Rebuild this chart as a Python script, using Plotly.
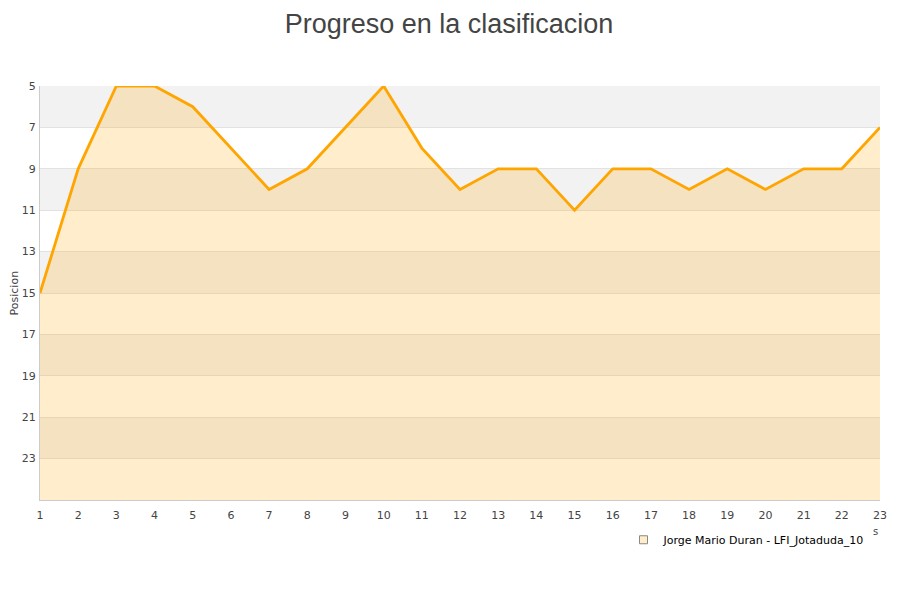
import plotly.graph_objects as go

# jornadas y posicion en la clasificacion
jornadas = list(range(1, 24))
posiciones = [15, 9, 5, 5, 6, 8, 10, 9, 7, 5, 8, 10, 9, 9, 11, 9, 9, 10, 9, 10, 9, 9, 7]
tick_vals = [5, 7, 9, 11, 13, 15, 17, 19, 21, 23]
fondo = 25
nombre = 'Jorge Mario Duran - LFI_Jotaduda_10'

fig = go.Figure()

# base invisible para rellenar hacia abajo (eje invertido)
fig.add_trace(go.Scatter(x=jornadas, y=[fondo] * len(jornadas), mode='lines',
                         line=dict(width=0), showlegend=False, hoverinfo='skip'))
fig.add_trace(go.Scatter(x=jornadas, y=posiciones, mode='lines', name=nombre,
                         line=dict(color='#ffa500', width=2.8), showlegend=False,
                         fill='tonexty', fillcolor='rgba(255,165,0,0.2)'))
# entrada de leyenda con cuadradito
fig.add_trace(go.Scatter(x=[None], y=[None], mode='markers', name=nombre,
                         marker=dict(symbol='square', size=8, color='#ffedcc',
                                     line=dict(color='#888888', width=1))))

# franjas grises alternas
shapes = []
for y0 in range(5, 25, 4):
    shapes.append(dict(type='rect', xref='paper', yref='y', x0=0, x1=1, y0=y0, y1=y0 + 2,
                       fillcolor='#f2f2f2', line=dict(width=0), layer='below'))

fig.update_layout(
    width=900, height=600,
    paper_bgcolor='white', plot_bgcolor='white',
    margin=dict(l=32, r=28, t=78, b=108),
    title=dict(text='Progreso en la clasificacion', x=0.49, xanchor='center',
               yref='container', y=0.99, yanchor='top',
               font=dict(family='Liberation Sans, Arial', size=27, color='#444444')),
    font=dict(family='DejaVu Sans', size=11, color='#444444'),
    shapes=shapes,
    showlegend=True,
    legend=dict(x=0.9875, xanchor='right', y=-0.061, yanchor='top', orientation='h',
                itemwidth=30, font=dict(family='DejaVu Sans', size=11, color='#000000')),
    annotations=[
        dict(text='s', xref='paper', yref='paper', x=0.9945, y=-0.075, showarrow=False,
             font=dict(size=10, color='#444444'), xanchor='center', yanchor='middle'),
        dict(text='Posicion', xref='paper', yref='paper', x=-0.0304, y=0.5, showarrow=False,
             textangle=-90, font=dict(size=11, color='#444444'), xanchor='center', yanchor='middle'),
    ],
)
fig.update_xaxes(range=[1, 23], tickmode='array', tickvals=jornadas, showgrid=False,
                 zeroline=False, showline=True, linecolor='#cccccc', ticks='', automargin=False,
                 ticklabelstandoff=5)
fig.update_yaxes(range=[fondo, 5], tickmode='array', tickvals=tick_vals, showgrid=True,
                 gridcolor='#e2e2e2', zeroline=False, showline=True, linecolor='#cccccc',
                 ticks='', automargin=False, ticklabelstandoff=1)

fig.write_html("out.html")
